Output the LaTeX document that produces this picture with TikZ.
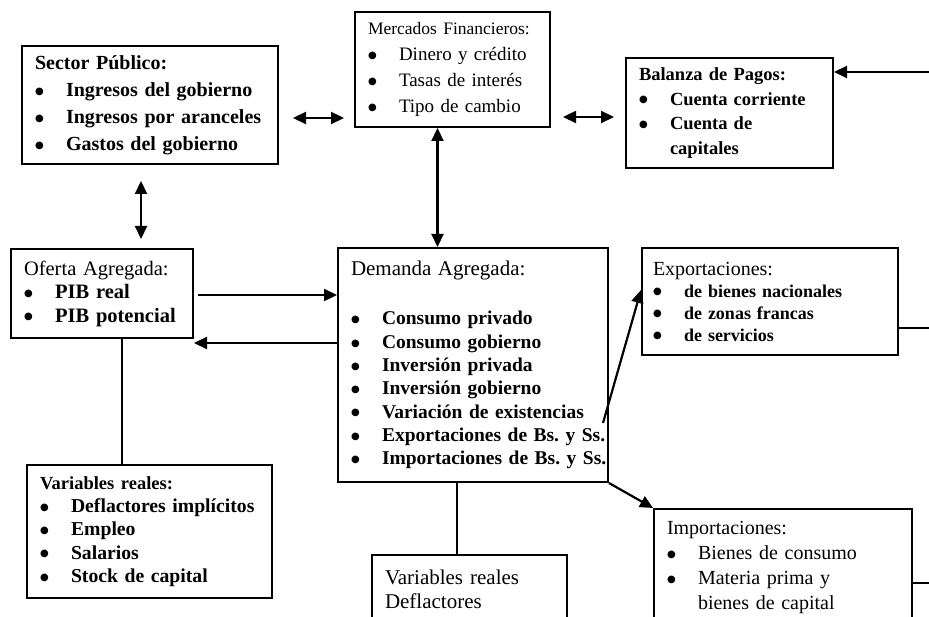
\documentclass[tikz,border=0pt]{standalone}
\usepackage{fontspec}
\setmainfont{Liberation Serif}
\newfontfamily\symfont{DejaVu Sans}
\usetikzlibrary{arrows.meta}
\frenchspacing
\newcommand{\bul}{\raisebox{2.2pt}{\symfont\fontsize{10}{10}\selectfont ●}}
\newcommand{\itm}[1]{\mbox{\makebox[31pt][l]{\bul}#1}}
\newcommand{\itmgap}{\hspace*{31pt}}

\begin{document}
\begin{tikzpicture}[
    x=1pt, y=-1pt,
    every node/.style={font=\fontsize{19}{23.5}\selectfont},
    panel/.style={draw, line width=2pt, align=left, inner xsep=13pt, inner ysep=0pt},
    link/.style={line width=2.2pt},
    arr/.style={link, -{Triangle[length=13pt,width=12pt]}},
    dbl/.style={link, {Triangle[length=13pt,width=12pt]}-{Triangle[length=13pt,width=12pt]}}
]
    \useasboundingbox (0,0) rectangle (929,617);

    % top row
    \node[panel, text width=230pt, minimum height=118pt, font=\bfseries\fontsize{20}{27}\selectfont] (sector) at (150,105)
        {Sector Público:\\ \itm{Ingresos del gobierno}\\ \itm{Ingresos por aranceles}\\ \itm{Gastos del gobierno}};
    \node[panel, text width=169pt, minimum height=115pt, font=\fontsize{19}{26}\selectfont] (mercados) at (452.5,69.5)
        {{\fontsize{17.5}{26}\selectfont Mercados Financieros:}\\ \itm{Dinero y crédito}\\ \itm{Tasas de interés}\\ \itm{Tipo de cambio}};
    \node[panel, text width=181pt, minimum height=110pt, font=\bfseries\fontsize{18.5}{24.5}\selectfont] (balanza) at (729.5,113)
        {Balanza de Pagos:\\ \itm{Cuenta corriente}\\ \itm{Cuenta de}\\ \itmgap capitales};

    % middle row
    \node[panel, text width=156pt, minimum height=89pt, font=\fontsize{20.5}{23.5}\selectfont] (oferta) at (102,293.5)
        {Oferta Agregada:\\ \textbf{\itm{PIB real}}\\ \textbf{\itm{PIB potencial}}};
    \node[panel, text width=244pt, minimum height=234pt, font=\fontsize{19.5}{23.3}\selectfont] (demanda) at (473,365)
        {{\fontsize{21}{23.3}\selectfont Demanda Agregada:}\\[26pt]
         \bfseries\itm{Consumo privado}\\ \itm{Consumo gobierno}\\ \itm{Inversión privada}\\ \itm{Inversión gobierno}\\
         \itm{Variación de existencias}\\ \itm{Exportaciones de Bs. y Ss.}\\ \itm{Importaciones de Bs. y Ss.}};
    \node[panel, text width=234pt, inner xsep=11pt, minimum height=107pt, font=\fontsize{18}{22}\selectfont] (export) at (770,301.5)
        {{\fontsize{20}{22}\selectfont Exportaciones:}\\ \bfseries\itm{de bienes nacionales}\\ \itm{de zonas francas}\\ \itm{de servicios}};

    % bottom row
    \node[panel, text width=219pt, minimum height=133pt, font=\bfseries\fontsize{19.7}{23.3}\selectfont] (varreal) at (149.5,531.5)
        {{\fontsize{18.5}{23.3}\selectfont Variables reales:}\\ \itm{Deflactores implícitos}\\ \itm{Empleo}\\ \itm{Salarios}\\ \itm{Stock de capital}};
    \node[panel, text width=169pt, minimum height=68pt, font=\fontsize{21}{24}\selectfont] (vardefl) at (469.5,589)
        {Variables reales\\ Deflactores};
    \node[panel, text width=232pt, minimum height=117pt, font=\fontsize{20}{25}\selectfont] (import) at (783,567.5)
        {Importaciones:\\ \itm{Bienes de consumo}\\ \itm{Materia prima y}\\ \itmgap bienes de capital};

    % free ends at the right margin
    \coordinate (bpin) at (929,72);
    \coordinate (xout) at (929,328);
    \coordinate (mout) at (929,583);
    \coordinate (ret) at ([yshift=-4pt]oferta.south east);
    \coordinate (xstart) at (603,423);

    % connectors
    \draw[dbl, shorten <=14pt, shorten >=10pt] ([yshift=-13pt]sector.east) -- ([yshift=-13pt]sector.east -| mercados.west);
    \draw[dbl, shorten <=12pt, shorten >=11pt] ([yshift=-47.5pt]mercados.east) -- ([yshift=-47.5pt]mercados.east -| balanza.west);
    \draw[dbl, shorten <=16pt, shorten >=9pt] ([xshift=-9pt]sector.south) -- ([xshift=-9pt]sector.south |- oferta.north);
    \draw[dbl] ([xshift=-15pt]mercados.south) -- ([xshift=-15pt]mercados.south |- demanda.north);
    \draw[arr] (bpin) -- (bpin -| balanza.east);
    \draw[arr, shorten <=4pt] ([yshift=-1.5pt]oferta.east) -- ([yshift=-1.5pt]oferta.east -| demanda.west);
    \draw[arr] (ret -| demanda.west) -- (ret);
    \draw[arr] (xstart) -- ([yshift=11.5pt]export.west);
    \draw[arr] (demanda.south east) -- (import.north west);
    \draw[link] (xout -| export.east) -- (xout);
    \draw[link] (mout -| import.east) -- (mout);
    \draw[link] ([xshift=20pt]oferta.south) -- ([xshift=20pt]oferta.south |- varreal.north);
    \draw[link] ([xshift=-16pt]demanda.south) -- ([xshift=-16pt]demanda.south |- vardefl.north);
\end{tikzpicture}
\end{document}
